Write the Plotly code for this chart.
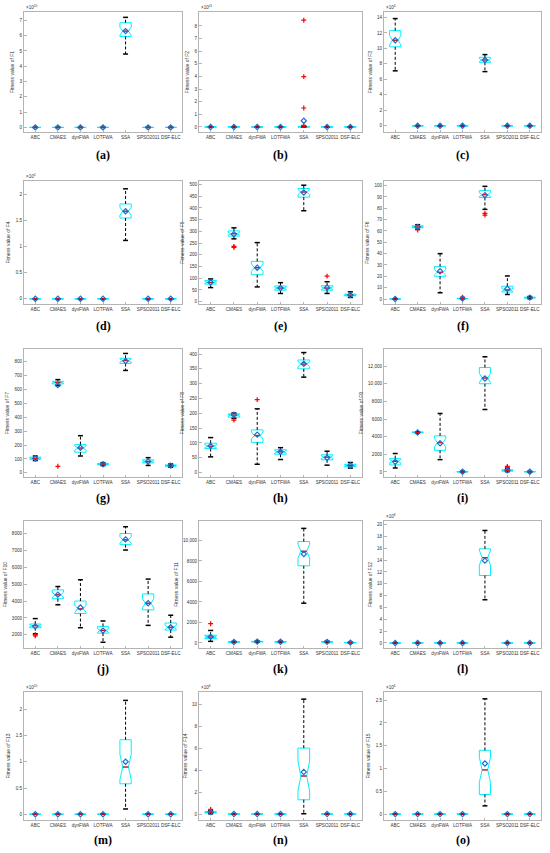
import numpy as np
import plotly.graph_objects as go

ALGOS = ["ABC", "CMAES", "dynFWA", "LOTFWA", "SSA", "SPSO2011", "DSF-ELC"]
N_RUNS = 30  # runs per algorithm, used for the notch half-width

# one row per algorithm: lower whisker, q1, median, q3, upper whisker, mean
Z = [0, 0, 0, 0, 0, 0]
NO_OUT = [[], [], [], [], [], [], []]

F1_STATS = [Z, Z, Z, Z, [4.8, 5.95, 6.3, 6.85, 7.2, 6.3], Z, Z]
F1_OUT = NO_OUT

F2_STATS = [Z, Z, Z, Z, [0, 0, 0, 0.02, 0.05, 0.49], Z, Z]
F2_OUT = [[], [], [], [], [8.45, 3.98, 1.5, 0.12], [], []]

F3_STATS = [[7.1, 10.2, 11.05, 12.3, 13.85, 11.05], Z, Z, Z,
            [7.0, 8.2, 8.5, 8.85, 9.2, 8.5], Z, Z]
F3_OUT = NO_OUT

F4_STATS = [Z, Z, Z, Z, [1.12, 1.55, 1.68, 1.82, 2.11, 1.68], Z, Z]
F4_OUT = NO_OUT

F5_STATS = [[60, 75, 82, 90, 97, 82],
            [268, 280, 290, 302, 315, 288],
            [63, 115, 145, 172, 252, 145],
            [35, 49, 58, 67, 81, 58],
            [388, 446, 468, 483, 497, 466],
            [35, 49, 58, 68, 85, 60],
            [18, 25, 28, 32, 42, 28]]
F5_OUT = [[], [236, 232], [], [], [], [109], []]

F6_STATS = [[0, 0, 0, 0.1, 0.2, 0.05],
            [61.5, 62.8, 63.5, 64.5, 65.5, 63.5],
            [5.5, 20, 23.5, 28.5, 40, 24.5],
            [0, 0.2, 0.4, 0.6, 1.0, 0.5],
            [79, 89.5, 92, 95.5, 99.3, 91.5],
            [4, 6.2, 8, 11.3, 20.3, 9],
            [0.3, 0.9, 1.2, 1.6, 2.2, 1.2]]
F6_OUT = [[], [60.8], [], [1.6, 1.3], [75.5, 74], [], []]

F7_STATS = [[88, 97, 104, 113, 121, 103],
            [627, 639, 650, 658, 670, 630],
            [121, 148, 178, 203, 267, 180],
            [52, 57, 62, 68, 73, 62],
            [736, 786, 807, 823, 858, 804],
            [53, 71, 81, 93, 109, 82],
            [40, 47, 52, 57, 64, 52]]
F7_OUT = [[], [47], [], [], [], [], []]

F8_STATS = [[53, 81, 89, 99, 118, 90],
            [183, 187, 194, 198, 201, 195],
            [28, 102, 125, 144, 215, 128],
            [44, 62, 70, 77, 84, 70],
            [322, 350, 366, 380, 405, 367],
            [25, 43, 52, 60, 72, 50],
            [15, 20, 24, 28, 34, 24]]
F8_OUT = [[], [177], [246], [], [], [], []]

F9_STATS = [[455, 800, 1210, 1510, 2090, 1150],
            [4400, 4440, 4490, 4530, 4560, 4480],
            [1400, 2450, 3320, 4090, 6630, 3250],
            [0, 5, 20, 50, 100, 30],
            [7080, 10000, 10650, 11850, 13060, 10600],
            [30, 100, 150, 250, 380, 200],
            [5, 15, 30, 50, 80, 30]]
F9_OUT = [[], [], [], [], [], [640, 520], []]

F10_STATS = [[2060, 2420, 2540, 2640, 2960, 2500],
             [3780, 4140, 4370, 4660, 4860, 4380],
             [2420, 3260, 3540, 4000, 5260, 3620],
             [1560, 2100, 2260, 2500, 2820, 2250],
             [7020, 7340, 7620, 8000, 8400, 7650],
             [2560, 3480, 3870, 4420, 5300, 3870],
             [1860, 2280, 2450, 2700, 3160, 2450]]
F10_OUT = [[1940, 2010], [], [], [], [], [], []]

F11_STATS = [[160, 430, 580, 760, 1220, 600],
             [50, 80, 100, 120, 150, 100],
             [80, 110, 130, 160, 200, 135],
             [60, 90, 110, 140, 180, 115],
             [3880, 7530, 8950, 9900, 11180, 8680],
             [50, 80, 110, 140, 180, 110],
             [10, 20, 30, 50, 80, 35]]
F11_OUT = [[1880], [], [], [], [], [], []]

F12_STATS = [Z, Z, Z, Z, [7.3, 11.4, 14.4, 15.9, 19.0, 13.9], Z, Z]
F12_OUT = NO_OUT

F13_STATS = [Z, Z, Z, Z, [0.1, 0.58, 0.9, 1.42, 2.17, 1.0], Z, Z]
F13_OUT = NO_OUT

F14_STATS = [[0.02, 0.1, 0.15, 0.22, 0.32, 0.18], Z, Z, Z,
             [0.03, 1.3, 3.46, 6.0, 10.45, 3.83], Z, Z]
F14_OUT = [[0.42], [], [], [], [], [], []]

F15_STATS = [Z, Z, Z, Z, [0.18, 0.43, 0.97, 1.40, 2.53, 1.11], Z, Z]
F15_OUT = NO_OUT

# letter, function, exponent, stats, outliers, y ticks, y range
PANELS = [
    ("a", "F1", 10, F1_STATS, F1_OUT, np.arange(0, 8, 1), [-0.3, 7.55]),
    ("b", "F2", 41, F2_STATS, F2_OUT, np.arange(0, 9, 1), [-0.4, 9.1]),
    ("c", "F3", 4, F3_STATS, F3_OUT, np.arange(0, 15, 2), [-0.8, 14.7]),
    ("d", "F4", 4, F4_STATS, F4_OUT, np.arange(0, 2.1, 0.5), [-0.1, 2.26]),
    ("e", "F5", None, F5_STATS, F5_OUT, np.arange(0, 501, 50), [-10, 515]),
    ("f", "F6", None, F6_STATS, F6_OUT, np.arange(0, 101, 10), [-4.4, 104]),
    ("g", "F7", None, F7_STATS, F7_OUT, np.arange(0, 801, 100), [-30, 890]),
    ("h", "F8", None, F8_STATS, F8_OUT, np.arange(0, 401, 50), [-15, 417]),
    ("i", "F9", None, F9_STATS, F9_OUT, np.arange(0, 12001, 2000), [-570, 13940]),
    ("j", "F10", None, F10_STATS, F10_OUT, np.arange(2000, 8001, 1000), [1220, 8740]),
    ("k", "F11", None, F11_STATS, F11_OUT, np.arange(0, 10001, 2000), [-490, 11900]),
    ("l", "F12", 8, F12_STATS, F12_OUT, np.arange(0, 21, 2), [-0.85, 20.6]),
    ("m", "F13", 10, F13_STATS, F13_OUT, np.arange(0, 2.1, 0.5), [-0.11, 2.33]),
    ("n", "F14", 6, F14_STATS, F14_OUT, np.arange(0, 11, 2), [-0.54, 11.1]),
    ("o", "F15", 6, F15_STATS, F15_OUT, np.arange(0, 2.6, 0.5), [-0.13, 2.68]),
]

W, H = 550, 853
COLS_PX = [(24, 182), (199, 362), (384, 541)]
ROWS_PX = [(12, 132), (181, 304), (349, 477), (521, 648), (692, 820)]
CAPTION_PX = [155, 326, 498, 669, 840]

FRAME = "#b4b4b4"
TXT = "#333333"
SANS = "Liberation Sans"


def tick_label(v):
    if abs(v) >= 10000:
        return f"{v:,.0f}"
    return f"{v:g}"


fig = go.Figure()
layout = {}
annotations = []
pos = np.arange(1, len(ALGOS) + 1)

for k, (letter, fname, expo, stats, outs, yticks, yrange) in enumerate(PANELS):
    r, c = divmod(k, 3)
    n = k + 1
    xa = "x" if n == 1 else f"x{n}"
    ya = "y" if n == 1 else f"y{n}"
    st = np.array(stats, dtype=float)
    lo, q1, med, q3, hi, mean = st.T
    notch = 1.57 * (q3 - q1) / np.sqrt(N_RUNS)

    # notched box (cyan), whiskers are drawn separately
    fig.add_trace(go.Box(
        x=pos, q1=q1, median=med, q3=q3, lowerfence=q1, upperfence=q3,
        notched=True, notchspan=notch, notchwidth=0.25, width=0.5,
        line=dict(color="#00f0ff", width=1), fillcolor="rgba(0,0,0,0)",
        boxpoints=False, whiskerwidth=0, hoverinfo="skip",
        xaxis=xa, yaxis=ya, showlegend=False))

    # dashed whiskers
    wx, wy = [], []
    for p, a, b, d, e in zip(pos, q3, hi, q1, lo):
        wx += [p, p, None, p, p, None]
        wy += [a, b, None, d, e, None]
    fig.add_trace(go.Scatter(x=wx, y=wy, mode="lines", hoverinfo="skip",
                             line=dict(color="black", width=1, dash="3px,2px"),
                             xaxis=xa, yaxis=ya, showlegend=False))

    # whisker caps
    cx, cy = [], []
    for p, a, b in zip(pos, hi, lo):
        cx += [p - 0.11, p + 0.11, None, p - 0.11, p + 0.11, None]
        cy += [a, a, None, b, b, None]
    fig.add_trace(go.Scatter(x=cx, y=cy, mode="lines", hoverinfo="skip",
                             line=dict(color="black", width=1.5),
                             xaxis=xa, yaxis=ya, showlegend=False))

    # red medians
    mx, my = [], []
    for p, m in zip(pos, med):
        mx += [p - 0.125, p + 0.125, None]
        my += [m, m, None]
    fig.add_trace(go.Scatter(x=mx, y=my, mode="lines", hoverinfo="skip",
                             line=dict(color="#ff0000", width=1.3),
                             xaxis=xa, yaxis=ya, showlegend=False))

    # outliers
    ox = [p for p, o in zip(pos, outs) for _ in o]
    oy = [v for o in outs for v in o]
    if ox:
        fig.add_trace(go.Scatter(x=ox, y=oy, mode="markers", hoverinfo="skip",
                                 marker=dict(symbol="cross-thin", size=3.5, color="#ff0000",
                                             line=dict(color="#ff0000", width=1.2)),
                                 xaxis=xa, yaxis=ya, showlegend=False))

    # mean markers
    fig.add_trace(go.Scatter(x=pos, y=mean, mode="markers", hoverinfo="skip",
                             marker=dict(symbol="diamond-open", size=4, color="#1a6fd1",
                                         line=dict(color="#1a6fd1", width=1.2)),
                             xaxis=xa, yaxis=ya, showlegend=False))

    x0, x1 = COLS_PX[c]
    y0, y1 = ROWS_PX[r]
    axis_common = dict(showline=True, linecolor=FRAME, linewidth=1, mirror=True,
                       ticks="inside", ticklen=2.5, tickcolor=FRAME, showgrid=False,
                       zeroline=False, tickfont=dict(family=SANS, size=4.6, color=TXT))
    layout["xaxis" if n == 1 else f"xaxis{n}"] = dict(
        domain=[x0 / W, x1 / W], anchor=ya, range=[0.5, 7.5], tickangle=0,
        tickvals=pos, ticktext=ALGOS, **axis_common)
    layout["yaxis" if n == 1 else f"yaxis{n}"] = dict(
        domain=[1 - y1 / H, 1 - y0 / H], anchor=xa, range=yrange,
        tickvals=yticks, ticktext=[tick_label(v) for v in yticks],
        title=dict(text=f"Fitness value of {fname}", standoff=4,
                   font=dict(family=SANS, size=5, color=TXT)),
        **axis_common)

    if expo is not None:
        annotations.append(dict(
            text=f"×10<sup>{expo}</sup>", xref=f"{xa} domain", yref=f"{ya} domain",
            x=0, y=1, xanchor="left", yanchor="bottom", showarrow=False,
            font=dict(family=SANS, size=4.5, color=TXT)))

    annotations.append(dict(
        text=f"<b>({letter})</b>", xref="paper", yref="paper",
        x=(x0 + x1) / 2 / W, y=1 - CAPTION_PX[r] / H, xanchor="center", yanchor="middle",
        showarrow=False, font=dict(family="Liberation Serif", size=12, color="black")))

fig.update_layout(width=W, height=H, margin=dict(l=0, r=0, t=0, b=0),
                  paper_bgcolor="white", plot_bgcolor="white",
                  annotations=annotations, **layout)

# the page body has a default margin; remove it so the figure sits at the window corner
fig.write_html("out.html", config={"displayModeBar": False},
               post_script="document.body.style.margin='0';")
